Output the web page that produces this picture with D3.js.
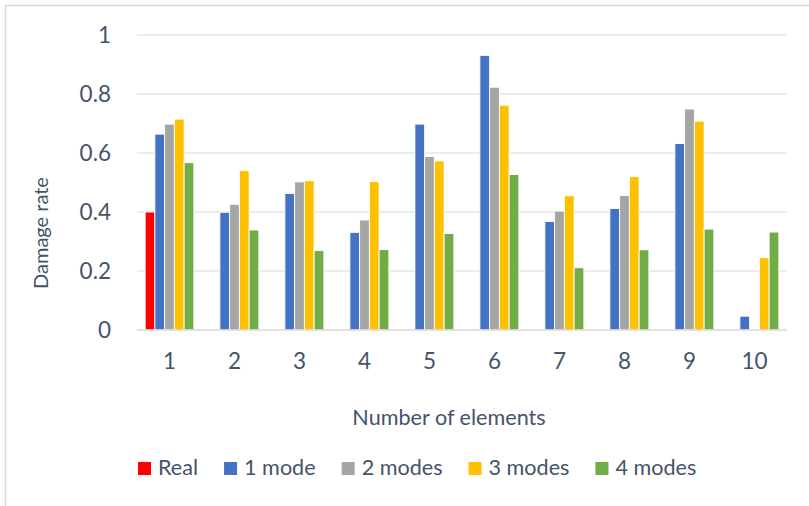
<!DOCTYPE html>
<html>
<head>
<meta charset="utf-8">
<script src="https://cdn.jsdelivr.net/npm/d3@7"></script>
<style>
  html, body { margin: 0; padding: 0; background: #fff; }
  svg { display: block; font-family: Lato, "Noto Sans", sans-serif; }
</style>
</head>
<body>
<svg id="chart" width="809" height="506"></svg>
<script>
// Damage rate per element, identified with different numbers of modes
const categories = ["1", "2", "3", "4", "5", "6", "7", "8", "9", "10"];
const seriesNames = ["Real", "1 mode", "2 modes", "3 modes", "4 modes"];
const seriesColors = ["#FF0000", "#4472C4", "#A5A5A5", "#FFC000", "#70AD47"];

const real     = [0.40, null, null, null, null, null, null, null, null, null];
const mode1    = [0.664, 0.399, 0.463, 0.331, 0.698, 0.931, 0.368, 0.412, 0.632, 0.047];
const modes2   = [0.698, 0.426, 0.502, 0.373, 0.588, 0.823, 0.403, 0.456, 0.749, 0.0];
const modes3   = [0.715, 0.540, 0.506, 0.503, 0.573, 0.762, 0.455, 0.520, 0.708, 0.245];
const modes4   = [0.567, 0.339, 0.269, 0.273, 0.327, 0.527, 0.211, 0.272, 0.342, 0.332];

const yTicks = [0, 0.2, 0.4, 0.6, 0.8, 1];
const yTickLabels = ["0", "0.2", "0.4", "0.6", "0.8", "1"];

const seriesValues = [real, mode1, modes2, modes3, modes4];

const svg = d3.select("#chart");
const textColor = "#44546A";
const gridColor = "#D9D9D9";

// chart frame
svg.append("rect")
  .attr("x", 5.5).attr("y", 5.5)
  .attr("width", 900).attr("height", 600)
  .attr("fill", "none").attr("stroke", gridColor).attr("stroke-width", 1.5);

const plot = { left: 137, right: 787, top: 35, bottom: 330 };

const x0 = d3.scaleBand()
  .domain(categories)
  .range([plot.left, plot.right])
  .paddingInner(0.25)
  .paddingOuter(0.125);

const x1 = d3.scaleBand()
  .domain(d3.range(seriesNames.length))
  .range([0, x0.bandwidth()]);

const y = d3.scaleLinear().domain([0, 1]).range([plot.bottom, plot.top]);

// horizontal gridlines
svg.append("g")
  .selectAll("line")
  .data(yTicks.filter(d => d > 0))
  .join("line")
  .attr("x1", plot.left).attr("x2", plot.right)
  .attr("y1", d => y(d)).attr("y2", d => y(d))
  .attr("stroke", gridColor).attr("stroke-width", 1.2);

// bars
const barData = [];
seriesValues.forEach((vals, s) => {
  vals.forEach((v, i) => {
    if (v !== null && v > 0) barData.push({ s, cat: categories[i], v });
  });
});

svg.append("g")
  .selectAll("rect")
  .data(barData)
  .join("rect")
  .attr("x", d => x0(d.cat) + x1(d.s))
  .attr("width", x1.bandwidth())
  .attr("y", d => y(d.v))
  .attr("height", d => y(0) - y(d.v))
  .attr("fill", d => seriesColors[d.s])
  .attr("stroke", "#fff")
  .attr("stroke-width", 0.9);

// category axis line
svg.append("line")
  .attr("x1", plot.left).attr("x2", plot.right)
  .attr("y1", y(0)).attr("y2", y(0))
  .attr("stroke", gridColor).attr("stroke-width", 1.5);

// y tick labels
svg.append("g")
  .selectAll("text")
  .data(yTicks)
  .join("text")
  .attr("x", 111)
  .attr("y", d => y(d))
  .attr("dy", "0.36em")
  .attr("text-anchor", "end")
  .attr("fill", textColor)
  .style("font-size", "22.5px")
  .text((d, i) => yTickLabels[i]);

// x tick labels
svg.append("g")
  .selectAll("text")
  .data(categories)
  .join("text")
  .attr("x", d => x0(d) + x0.bandwidth() / 2)
  .attr("y", 369)
  .attr("text-anchor", "middle")
  .attr("fill", textColor)
  .style("font-size", "22.5px")
  .text(d => d);

// axis titles
svg.append("text")
  .attr("x", 449).attr("y", 425)
  .attr("text-anchor", "middle")
  .attr("fill", textColor)
  .style("font-size", "21.6px")
  .text("Number of elements");

svg.append("text")
  .attr("transform", "translate(48,233) rotate(-90)")
  .attr("text-anchor", "middle")
  .attr("fill", textColor)
  .style("font-size", "20px")
  .text("Damage rate");

// legend
const legend = svg.append("g");
let lx = 138;
seriesNames.forEach((name, i) => {
  legend.append("rect")
    .attr("x", lx).attr("y", 462)
    .attr("width", 13).attr("height", 13)
    .attr("fill", seriesColors[i]);
  const t = legend.append("text")
    .attr("x", lx + 20).attr("y", 475)
    .attr("fill", textColor)
    .style("font-size", "21.6px")
    .text(name);
  lx += 20 + t.node().getComputedTextLength() + 26;
});
</script>
</body>
</html>
